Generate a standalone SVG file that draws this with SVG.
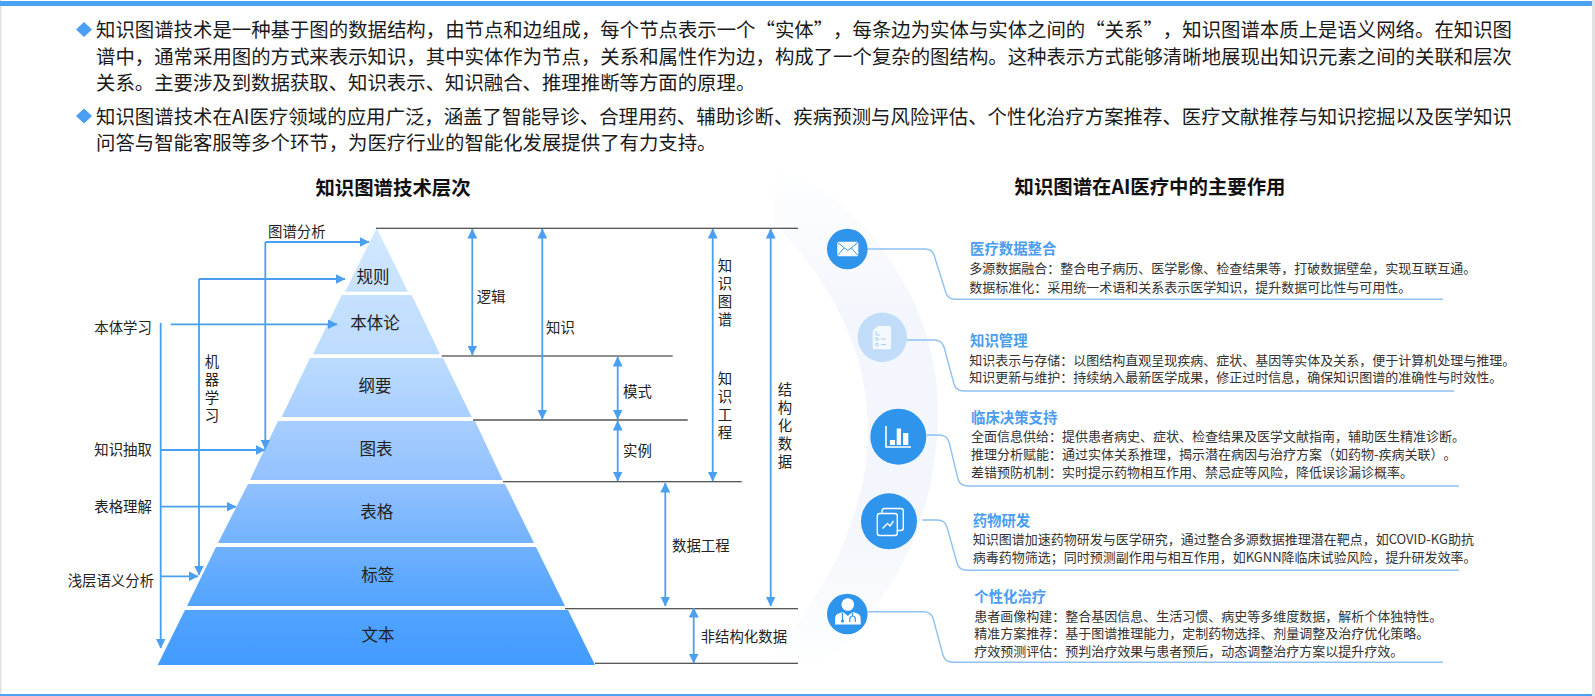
<svg xmlns="http://www.w3.org/2000/svg" width="1595" height="696" viewBox="0 0 1595 696">
<style>
text{font-family:"Noto Sans CJK SC","Liberation Sans",sans-serif;fill:#1a1a1a;text-spacing-trim:space-all}
.b{font-size:19.4px}
.h{font-size:19.4px;font-weight:700;text-anchor:middle;fill:#111}
.l{font-size:14.4px;fill:#222}
.v{font-size:14.4px;fill:#222;writing-mode:vertical-rl;text-orientation:upright}
.p{font-size:16.5px;text-anchor:middle;fill:#222}
.t{font-size:14.4px;font-weight:700;fill:#4c9df0}
.d{font-size:13px;fill:#333}
.a{fill:none;stroke:#4a9ff0;stroke-width:1.8}
.k{fill:none;stroke:#222;stroke-width:1.1}
.c{fill:none;stroke:#8fc2f2;stroke-width:1.4}
.w{fill:none;stroke:#fff;stroke-width:1.4}
</style>
<defs>
<marker id="ah" viewBox="0 0 10 10" refX="9.5" refY="5" markerUnits="userSpaceOnUse" markerWidth="10" markerHeight="10" orient="auto-start-reverse"><path d="M0,0L10,5L0,10z" fill="#4a9ff0"/></marker>
<linearGradient id="py" gradientUnits="userSpaceOnUse" x1="0" y1="228" x2="0" y2="665">
<stop offset="0" stop-color="#d2e8ff"/><stop offset="0.3" stop-color="#bcdbff"/><stop offset="0.58" stop-color="#92c1ff"/><stop offset="0.85" stop-color="#55a5ff"/><stop offset="1" stop-color="#429bff"/>
</linearGradient>
<linearGradient id="sw" gradientUnits="userSpaceOnUse" x1="0" y1="165" x2="0" y2="695">
<stop offset="0" stop-color="#fff"/><stop offset="0.28" stop-color="#f3f6fc"/><stop offset="0.68" stop-color="#f3f6fc"/><stop offset="0.95" stop-color="#fff"/>
</linearGradient>
</defs>
<rect width="1595" height="696" fill="#fff"/>
<rect x="0" y="0" width="1.5" height="696" fill="#e2e2e2"/>
<rect x="1592" y="0" width="3" height="696" fill="#e2e2e2"/>
<rect x="0" y="1" width="1592" height="5" fill="#4aa3f5"/>
<rect x="0" y="694" width="1592" height="2" fill="#4aa3f5"/>
<path id="swoosh" d="M775,165C850,190 938,290 938,410C938,510 900,610 790,692L760,670C830,590 868,510 868,430C868,350 830,280 775,225Z" fill="url(#sw)"/>

<g id="intro">
<path d="M84,22L92,29.5L84,37L76,29.5Z" fill="#4a9ff5"/>
<path d="M84,108.5L92,116L84,123.5L76,116Z" fill="#4a9ff5"/>
<text class="b" x="96" y="37.4" textLength="1416">知识图谱技术是一种基于图的数据结构，由节点和边组成，每个节点表示一个“实体”，每条边为实体与实体之间的“关系”，知识图谱本质上是语义网络。在知识图</text>
<text class="b" x="96" y="64" textLength="1416">谱中，通常采用图的方式来表示知识，其中实体作为节点，关系和属性作为边，构成了一个复杂的图结构。这种表示方式能够清晰地展现出知识元素之间的关联和层次</text>
<text class="b" x="96" y="90.4">关系。主要涉及到数据获取、知识表示、知识融合、推理推断等方面的原理。</text>
<text class="b" x="96" y="124.4" textLength="1416">知识图谱技术在AI医疗领域的应用广泛，涵盖了智能导诊、合理用药、辅助诊断、疾病预测与风险评估、个性化治疗方案推荐、医疗文献推荐与知识挖掘以及医学知识</text>
<text class="b" x="96" y="150.4">问答与智能客服等多个环节，为医疗行业的智能化发展提供了有力支持。</text>
</g>
<text class="h" x="393" y="195.4">知识图谱技术层次</text>
<text class="h" x="1150" y="194.4">知识图谱在AI医疗中的主要作用</text>

<g id="layer-guizhe"><path d="M376.7,228L408,291.7H345Z" fill="url(#py)"/><text class="p" x="373" y="283">规则</text></g>
<g id="layer-benti"><path d="M341.7,295H411.7L440,354.3H313Z" fill="url(#py)"/><text class="p" x="375" y="329.3">本体论</text></g>
<g id="layer-gangyao"><path d="M310,358H443L471.7,417H281.7Z" fill="url(#py)"/><text class="p" x="375" y="392">纲要</text></g>
<g id="layer-tubiao"><path d="M278,421H475L502.7,480H250Z" fill="url(#py)"/><text class="p" x="376" y="455.3">图表</text></g>
<g id="layer-biaoge"><path d="M248,484H505L534,543H218Z" fill="url(#py)"/><text class="p" x="376.7" y="518">表格</text></g>
<g id="layer-biaoqian"><path d="M216,547H536L565,606H187Z" fill="url(#py)"/><text class="p" x="377.7" y="581.3">标签</text></g>
<g id="layer-wenben"><path d="M185,610H568L595,665H157.7Z" fill="url(#py)"/><text class="p" x="378" y="641.3">文本</text></g>

<g id="connectors">
<path class="k" d="M376,228.3H798M441.7,356H672.7M503,481.7H741.7M565,608.7H798M595,663.3H798"/>
<path class="k" style="stroke:#555;stroke-width:1.3" d="M473,420H687.7"/>
<g marker-end="url(#ah)">
<path class="a" marker-start="url(#ah)" d="M472.3,229V355"/>
<path class="a" marker-start="url(#ah)" d="M542.3,229V419"/>
<path class="a" marker-start="url(#ah)" d="M712.7,229V481"/>
<path class="a" marker-start="url(#ah)" d="M770.7,229V606"/>
<path class="a" marker-start="url(#ah)" d="M617.7,357V419"/>
<path class="a" marker-start="url(#ah)" d="M617.7,421V481"/>
<path class="a" marker-start="url(#ah)" d="M665.3,483V606"/>
<path class="a" marker-start="url(#ah)" d="M693.7,608V663"/>
<path class="a" d="M265.3,242H369"/>
<path class="a" d="M265.3,242V449"/>
<path class="a" d="M199,279H345"/>
<path class="a" d="M199,279V575"/>
<path class="a" d="M170.7,324.3H337"/>
<path class="a" d="M160.7,323V648"/>
<path class="a" d="M160.7,450H265"/>
<path class="a" d="M160.7,506.7H236"/>
<path class="a" d="M160.7,576.3H198"/>
</g>
<path class="c" d="M867,249H925Q932,249 934,255L946,293Q948,299.3 955,299.3H1443"/>
<path class="c" d="M906.7,340H934Q942,340 944,347L954,384Q956,391 964,391H1454"/>
<path class="c" d="M926.7,435H939Q947,435 949,442L958,479Q960,486 968,486H1459"/>
<path class="c" d="M922.3,520H937Q945,520 947,527L957,563Q959,570.3 967,570.3H1459"/>
<path class="c" d="M867.7,611.7H923Q931,611.7 933,618L943,655Q945,662.3 953,662.3H1443"/>
</g>

<g id="left-labels">
<text class="l" x="94.3" y="332.5">本体学习</text>
<text class="l" x="94.3" y="454.5">知识抽取</text>
<text class="l" x="94.3" y="511.5">表格理解</text>
<text class="l" x="67.7" y="585.5">浅层语义分析</text>
<text class="l" x="268" y="236.5">图谱分析</text>
<text class="v" x="212" y="354.5" letter-spacing="3.6">机器学习</text>
</g>
<g id="right-labels">
<text class="l" x="476.7" y="301.5">逻辑</text>
<text class="l" x="546" y="332.5">知识</text>
<text class="l" x="623" y="396.5">模式</text>
<text class="l" x="623" y="456">实例</text>
<text class="l" x="672" y="550.5">数据工程</text>
<text class="l" x="700.7" y="641.5">非结构化数据</text>
<text class="v" x="725" y="258.8" letter-spacing="3.3">知识图谱</text>
<text class="v" x="725" y="371.8" letter-spacing="3.6">知识工程</text>
<text class="v" x="785" y="382.8" letter-spacing="3.4">结构化数据</text>
</g>

<g id="item-data">
<circle cx="847.3" cy="249" r="20.3" fill="#2f94ec"/>
<rect x="837.3" y="241.7" width="21" height="14.5" rx="1.5" fill="#fff"/>
<path d="M837.5,242.5L847.8,250.5L858,242.5M837.5,255.5L844,248M858,255.5L851.5,248" fill="none" stroke="#2f94ec" stroke-width="1"/>
<text class="t" x="970" y="253.8">医疗数据整合</text>
<text class="d" x="969.3" y="272.7">多源数据融合：整合电子病历、医学影像、检查结果等，打破数据壁垒，实现互联互通。</text>
<text class="d" x="969.3" y="291.7">数据标准化：采用统一术语和关系表示医学知识，提升数据可比性与可用性。</text>
</g>
<g id="item-knowledge">
<circle cx="882.3" cy="337.3" r="24.7" fill="#c0dcf8"/>
<path d="M877.5,326H889.5Q891,326 891,327.5V347.8Q891,349.3 889.5,349.3H874.2Q872.7,349.3 872.7,347.8V331Z" fill="#f4f9ff"/>
<path d="M876,331V335H880M881,339H886M881,344.5H886" fill="none" stroke="#a9cff5" stroke-width="1"/>
<circle cx="877" cy="339" r="1.4" fill="none" stroke="#a9cff5"/><circle cx="877" cy="344.5" r="1.4" fill="none" stroke="#a9cff5"/>
<text class="t" x="970" y="346.2">知识管理</text>
<text class="d" x="969.3" y="365">知识表示与存储：以图结构直观呈现疾病、症状、基因等实体及关系，便于计算机处理与推理。</text>
<text class="d" x="969.3" y="381.7">知识更新与维护：持续纳入最新医学成果，修正过时信息，确保知识图谱的准确性与时效性。</text>
</g>
<g id="item-clinical">
<circle cx="898.3" cy="436.7" r="28" fill="#2f94ec"/>
<path d="M886,426V447H911" fill="none" stroke="#fff" stroke-width="1.6"/>
<rect x="890" y="440" width="5" height="5" fill="#fff"/><rect x="896.7" y="428.5" width="4.3" height="16.5" fill="#fff"/><rect x="903" y="433" width="5.3" height="12" fill="#fff"/>
<text class="t" x="971" y="422.8">临床决策支持</text>
<text class="d" x="971" y="440.7">全面信息供给：提供患者病史、症状、检查结果及医学文献指南，辅助医生精准诊断。</text>
<text class="d" x="971" y="459">推理分析赋能：通过实体关系推理，揭示潜在病因与治疗方案（如药物-疾病关联）。</text>
<text class="d" x="971" y="476.7">差错预防机制：实时提示药物相互作用、禁忌症等风险，降低误诊漏诊概率。</text>
</g>
<g id="item-drug">
<circle cx="889" cy="521.3" r="28" fill="#2f94ec"/>
<path class="w" d="M882,513V511Q882,508.5 884.5,508.5H901Q903.3,508.5 903.3,511V528Q903.3,530.5 901,530.5H897.5"/>
<rect class="w" x="877.3" y="513.5" width="20" height="22" rx="2.5"/>
<path class="w" d="M882.5,528.5L887.5,523.5L890,526L893.5,521"/>
<text class="t" x="972.7" y="525.5">药物研发</text>
<text class="d" x="972.7" y="544">知识图谱加速药物研发与医学研究，通过整合多源数据推理潜在靶点，如COVID-KG助抗</text>
<text class="d" x="972.7" y="562">病毒药物筛选；同时预测副作用与相互作用，如KGNN降临床试验风险，提升研发效率。</text>
</g>
<g id="item-personal">
<circle cx="847.3" cy="614" r="20.3" fill="#2f94ec"/>
<circle cx="847.8" cy="604.5" r="6.3" fill="#fff"/>
<path d="M835,624.5V619Q835,614 840,613L843,612L847.8,616L852.5,612L856,613Q860.7,614 860.7,619V624.5Z" fill="#fff"/>
<path d="M842.5,612.5V620M852.5,612.5V616M849.8,622V619Q849.8,616 852.5,616Q855.3,616 855.3,619V622" fill="none" stroke="#2f94ec" stroke-width="1.2"/>
<circle cx="842.5" cy="621" r="1.6" fill="#2f94ec"/>
<text class="t" x="974.3" y="602">个性化治疗</text>
<text class="d" x="974.3" y="621">患者画像构建：整合基因信息、生活习惯、病史等多维度数据，解析个体独特性。</text>
<text class="d" x="974.3" y="637.7">精准方案推荐：基于图谱推理能力，定制药物选择、剂量调整及治疗优化策略。</text>
<text class="d" x="974.3" y="655.7">疗效预测评估：预判治疗效果与患者预后，动态调整治疗方案以提升疗效。</text>
</g>
</svg>
